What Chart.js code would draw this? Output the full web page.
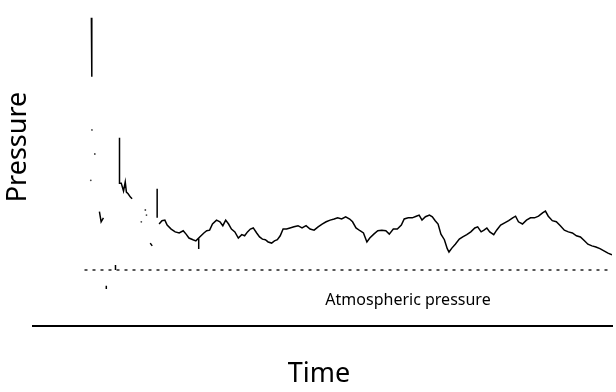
<!DOCTYPE html>
<html>
<head>
<meta charset="utf-8">
<script src="https://cdn.jsdelivr.net/npm/chart.js@4/dist/chart.umd.min.js"></script>
<style>
  body { margin: 0; background: #fff; }
  #wrap { width: 616px; height: 392px; }
</style>
</head>
<body>
<div id="wrap"><canvas id="chart" width="616" height="392"></canvas></div>
<script>
// pressure trace, arbitrary units (atmospheric = 1), null = gap in the recording
const traceTime = [
  9.3, 9.35, 9.4, null,
  10.7, 11.0, 11.4, null,
  11.9, 11.9, null,
  13.5, 13.5, null,
  14.2, 14.2, 14.5, 14.9, 15.2, 15.4, 15.7, 16.1, 16.4, null,
  19.55, 19.9, null,
  20.76, 20.76, null,
  21.1, 21.6, 22.1, 22.5, 23.2, 23.9, 24.6, 25.3, 25.8, 26.3, 27.0, 27.5,
  28.0, 28.0, 28.0, 28.4, 28.9, 29.4, 29.9, 30.4, 31.1, 31.7, 32.2, 32.7,
  33.2, 33.7, 34.3, 34.9, 35.5, 36.0, 36.5, 37.0, 37.5, 38.1, 38.6, 39.1,
  39.6, 40.1, 40.7, 41.2, 41.7, 42.2, 42.7, 43.3, 43.9, 44.6, 45.3, 46.0,
  46.7, 47.4, 48.1, 48.8, 49.5, 50.2, 50.9, 51.6, 52.2, 52.9, 53.6, 54.3,
  54.8, 55.4, 56.1, 56.7, 57.3, 57.8, 58.5, 59.2, 59.9, 60.6, 61.2, 61.9,
  62.6, 63.3, 63.8, 64.5, 65.2, 65.9, 66.4, 66.9, 67.5, 68.2, 68.7, 69.2,
  69.7, 70.2, 70.8, 71.3, 71.6, 72.1, 72.7, 73.4, 74.0, 74.7, 75.4, 76.1,
  76.6, 77.2, 77.7, 78.2, 78.7, 79.4, 79.9, 80.6, 81.3, 82.0, 82.7, 83.2,
  83.7, 84.4, 85.1, 85.8, 86.5, 87.2, 87.9, 88.4, 88.9, 89.6, 90.3, 91.0,
  91.7, 92.4, 93.1, 93.8, 94.5, 95.2, 95.8, 96.5, 97.2, 97.9, 98.6, 99.3, 100
];
const tracePressure = [
  5.50, 4.70, 4.45, null,
  2.04, 1.86, 1.93, null,
  0.72, 0.66, null,
  1.00, 1.09, null,
  3.36, 2.55, 2.55, 2.41, 2.57, 2.39, 2.36, 2.30, 2.27, null,
  1.48, 1.43, null,
  2.45, 1.93, null,
  1.82, 1.88, 1.89, 1.80, 1.73, 1.68, 1.66, 1.70, 1.64, 1.57, 1.54, 1.52,
  1.57, 1.375, 1.57, 1.61, 1.66, 1.70, 1.71, 1.82, 1.89, 1.86, 1.79, 1.89,
  1.82, 1.73, 1.68, 1.57, 1.63, 1.61, 1.68, 1.73, 1.75, 1.66, 1.59, 1.55,
  1.54, 1.50, 1.48, 1.52, 1.54, 1.61, 1.73, 1.73, 1.75, 1.77, 1.79, 1.75,
  1.79, 1.73, 1.71, 1.77, 1.82, 1.86, 1.89, 1.91, 1.93, 1.91, 1.95, 1.91,
  1.86, 1.75, 1.70, 1.66, 1.50, 1.57, 1.64, 1.70, 1.71, 1.70, 1.64, 1.73,
  1.73, 1.80, 1.91, 1.93, 1.93, 1.96, 1.98, 1.89, 1.95, 1.98, 1.95, 1.88,
  1.82, 1.64, 1.54, 1.38, 1.32, 1.39, 1.46, 1.55, 1.59, 1.63, 1.68, 1.75,
  1.77, 1.68, 1.71, 1.75, 1.68, 1.63, 1.71, 1.80, 1.84, 1.88, 1.93, 1.96,
  1.86, 1.82, 1.89, 1.93, 1.93, 1.96, 2.02, 2.05, 1.96, 1.88, 1.86, 1.79,
  1.71, 1.68, 1.66, 1.61, 1.59, 1.52, 1.46, 1.43, 1.41, 1.38, 1.34, 1.30, 1.27
];

// isolated specks in the record
const speckTime = [18.0, 18.7, 18.9, 9.4, 9.9, 9.2];
const speckPressure = [1.86, 2.07, 1.98, 3.5, 3.07, 2.6];

// atmospheric reference level
const atmTime = [8.1, 100];
const atmPressure = [1, 1];

const toPoints = (xs, ys) => xs.map((x, i) => (x === null ? { x: NaN, y: null } : { x: x, y: ys[i] }));

const FONT = "'Noto Sans', 'DejaVu Sans', sans-serif";

const labels = {
  id: "labels",
  afterDraw(chart) {
    const ctx = chart.ctx;
    ctx.save();
    ctx.fillStyle = "#000";
    ctx.textAlign = "center";
    ctx.textBaseline = "middle";

    ctx.font = "27px " + FONT;
    ctx.fillText("Time", 319, 374);

    ctx.font = "16px " + FONT;
    ctx.fillText("Atmospheric pressure", 408, 300);

    ctx.translate(18, 147);
    ctx.rotate(-Math.PI / 2);
    ctx.font = "27px " + FONT;
    ctx.fillText("Pressure", 0, 0);
    ctx.restore();
  }
};

new Chart(document.getElementById("chart"), {
  type: "line",
  data: {
    datasets: [
      {
        data: toPoints(traceTime, tracePressure),
        borderColor: "#000",
        borderWidth: 1.5,
        pointRadius: 0,
        spanGaps: false,
        tension: 0
      },
      {
        data: toPoints(atmTime, atmPressure),
        borderColor: "#222",
        borderWidth: 1.6,
        borderDash: [3, 5],
        pointRadius: 0
      },
      {
        data: toPoints(speckTime, speckPressure),
        showLine: false,
        pointRadius: 0.9,
        pointBackgroundColor: "#444",
        pointBorderWidth: 0
      }
    ]
  },
  options: {
    responsive: false,
    animation: false,
    layout: { padding: { left: 33, right: -4, top: 10, bottom: 66 } },
    plugins: { legend: { display: false }, tooltip: { enabled: false } },
    scales: {
      x: {
        type: "linear",
        min: -0.87,
        max: 100,
        ticks: { display: false },
        grid: { display: false, drawTicks: false },
        border: { display: true, color: "#000", width: 2 }
      },
      y: {
        display: false,
        min: 0,
        max: 5.64
      }
    }
  },
  plugins: [labels]
});
</script>
</body>
</html>
